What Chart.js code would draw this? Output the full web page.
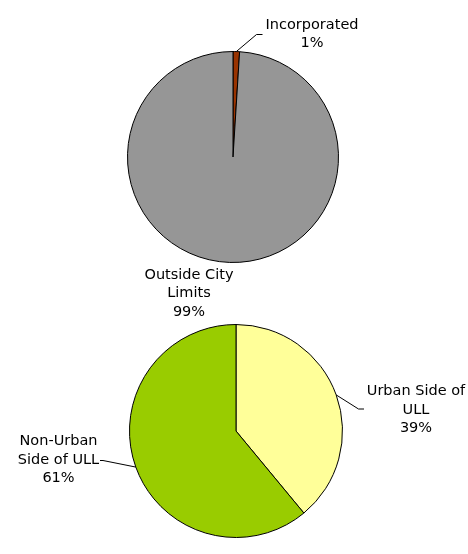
<!DOCTYPE html>
<html lang="en">
<head>
  <meta charset="UTF-8">
  <title>City Limits and ULL</title>
  <script src="https://cdn.jsdelivr.net/npm/chart.js"></script>
  <style>
    html, body { margin: 0; padding: 0; background: #fff; }
    .wrap { position: relative; width: 468px; height: 554px; }
    .wrap canvas { position: absolute; left: 0; top: 0; }
  </style>
</head>
<body>
  <div class="wrap">
    <canvas id="topPie" width="468" height="554"></canvas>
    <canvas id="bottomPie" width="468" height="554"></canvas>
  </div>

  <script>
    // data
    const topCategories = ['Incorporated', 'Outside City Limits'];
    const topValues = [1, 99];
    const topColors = ['#993300', '#969696'];
    const topWrapped = [['Incorporated'], ['Outside City', 'Limits']];

    const bottomCategories = ['Urban Side of ULL', 'Non-Urban Side of ULL'];
    const bottomValues = [39, 61];
    const bottomColors = ['#FFFF99', '#99CC00'];
    const bottomWrapped = [['Urban Side of', 'ULL'], ['Non-Urban', 'Side of ULL']];

    // draws the text labels + leader lines next to each slice
    const pieLabels = {
      id: 'pieLabels',
      afterDatasetsDraw(chart, args, opts) {
        const ctx = chart.ctx;
        const meta = chart.getDatasetMeta(0);
        const values = chart.data.datasets[0].data;
        const total = values.reduce((a, b) => a + b, 0);
        ctx.save();
        ctx.font = '14.5px "DejaVu Sans"';
        ctx.fillStyle = '#000';
        ctx.strokeStyle = '#000';
        ctx.lineWidth = 1;
        ctx.textAlign = 'center';
        ctx.textBaseline = 'middle';
        opts.items.forEach((item, i) => {
          const arc = meta.data[i];
          const p = arc.getProps(['x', 'y', 'startAngle', 'endAngle', 'outerRadius'], true);
          const mid = (p.startAngle + p.endAngle) / 2;
          const lines = opts.wrapped[i].concat([Math.round(values[i] / total * 100) + '%']);
          lines.forEach((t, j) => {
            ctx.fillText(t, p.x + item.dx, p.y + item.dy + j * opts.lineHeight);
          });
          if (item.leader) {
            ctx.beginPath();
            ctx.moveTo(p.x + Math.cos(mid) * p.outerRadius, p.y + Math.sin(mid) * p.outerRadius);
            ctx.lineTo(p.x + item.leader[0], p.y + item.leader[1]);
            ctx.lineTo(p.x + item.leader[2], p.y + item.leader[1]);
            ctx.stroke();
          }
        });
        ctx.restore();
      }
    };

    function makePie(id, categories, values, colors, wrapped, padding, items) {
      return new Chart(document.getElementById(id), {
        type: 'pie',
        data: {
          labels: categories,
          datasets: [{
            data: values,
            backgroundColor: colors,
            borderColor: '#000',
            borderWidth: 1
          }]
        },
        options: {
          responsive: false,
          animation: false,
          layout: { padding: padding },
          plugins: {
            legend: { display: false },
            tooltip: { enabled: false },
            pieLabels: { items: items, wrapped: wrapped, lineHeight: 18.5 }
          }
        },
        plugins: [pieLabels]
      });
    }

    makePie('topPie', topCategories, topValues, topColors, topWrapped,
      { left: 127, right: 129, top: 51, bottom: 291 },
      [
        { dx: 79, dy: -132, leader: [23.5, -122.5, 29.5] },
        { dx: -44, dy: 118 }
      ]);

    makePie('bottomPie', bottomCategories, bottomValues, bottomColors, bottomWrapped,
      { left: 129, right: 125, top: 324, bottom: 16 },
      [
        { dx: 180, dy: -39.5, leader: [122.5, -22, 128] },
        { dx: -177.5, dy: 10.5, leader: [-133, 29.5, -136] }
      ]);
  </script>
</body>
</html>
